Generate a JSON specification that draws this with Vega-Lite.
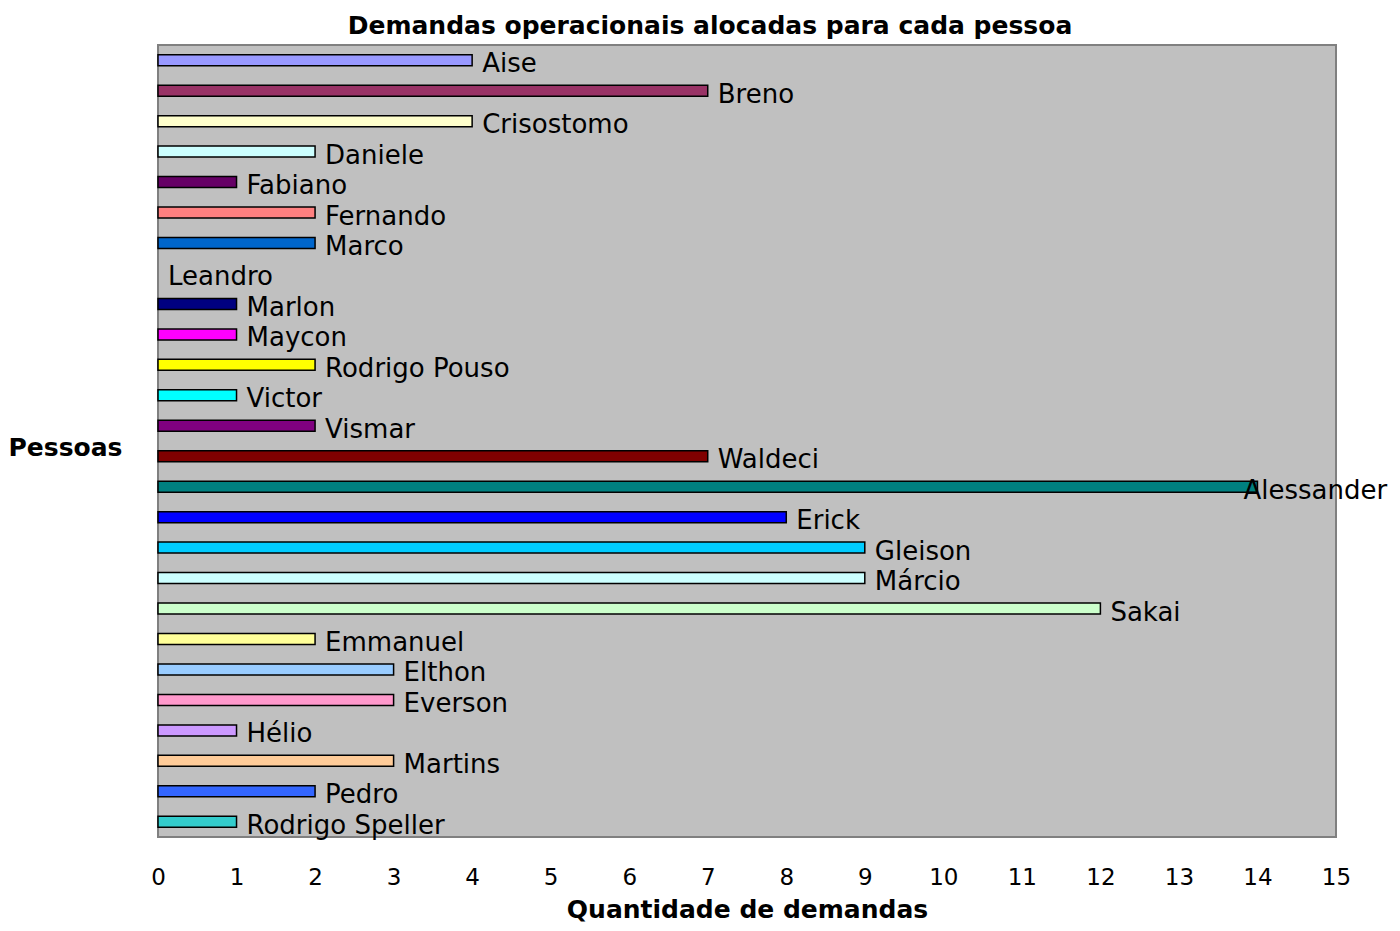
{
  "$schema": "https://vega.github.io/schema/vega-lite/v6.json",
  "width": 1178,
  "height": 792,
  "autosize": {"type": "none"},
  "padding": {"left": 158, "top": 45, "right": 64, "bottom": 94},
  "background": "white",
  "title": {
    "text": "Demandas operacionais alocadas para cada pessoa",
    "font": "DejaVu Sans",
    "fontSize": 25,
    "fontWeight": "bold",
    "color": "black",
    "anchor": "middle",
    "dx": -37,
    "offset": 6
  },
  "data": {
    "values": [
      {"nome": "Aise", "qtd": 4, "cor": "#9999ff"},
      {"nome": "Breno", "qtd": 7, "cor": "#993366"},
      {"nome": "Crisostomo", "qtd": 4, "cor": "#ffffcc"},
      {"nome": "Daniele", "qtd": 2, "cor": "#ccffff"},
      {"nome": "Fabiano", "qtd": 1, "cor": "#660066"},
      {"nome": "Fernando", "qtd": 2, "cor": "#ff8080"},
      {"nome": "Marco", "qtd": 2, "cor": "#0066cc"},
      {"nome": "Leandro", "qtd": 0, "cor": "#c0c0c0"},
      {"nome": "Marlon", "qtd": 1, "cor": "#000080"},
      {"nome": "Maycon", "qtd": 1, "cor": "#ff00ff"},
      {"nome": "Rodrigo Pouso", "qtd": 2, "cor": "#ffff00"},
      {"nome": "Victor", "qtd": 1, "cor": "#00ffff"},
      {"nome": "Vismar", "qtd": 2, "cor": "#800080"},
      {"nome": "Waldeci", "qtd": 7, "cor": "#800000"},
      {"nome": "Alessander", "qtd": 14, "cor": "#008080"},
      {"nome": "Erick", "qtd": 8, "cor": "#0000ff"},
      {"nome": "Gleison", "qtd": 9, "cor": "#00ccff"},
      {"nome": "Márcio", "qtd": 9, "cor": "#ccffff"},
      {"nome": "Sakai", "qtd": 12, "cor": "#ccffcc"},
      {"nome": "Emmanuel", "qtd": 2, "cor": "#ffff99"},
      {"nome": "Elthon", "qtd": 3, "cor": "#99ccff"},
      {"nome": "Everson", "qtd": 3, "cor": "#ff99cc"},
      {"nome": "Hélio", "qtd": 1, "cor": "#cc99ff"},
      {"nome": "Martins", "qtd": 3, "cor": "#ffcc99"},
      {"nome": "Pedro", "qtd": 2, "cor": "#3366ff"},
      {"nome": "Rodrigo Speller", "qtd": 1, "cor": "#33cccc"}
    ]
  },
  "encoding": {
    "y": {
      "field": "nome",
      "type": "nominal",
      "sort": null,
      "scale": {
        "domain": ["Aise", "Breno", "Crisostomo", "Daniele", "Fabiano", "Fernando", "Marco", "Leandro", "Marlon", "Maycon", "Rodrigo Pouso", "Victor", "Vismar", "Waldeci", "Alessander", "Erick", "Gleison", "Márcio", "Sakai", "Emmanuel", "Elthon", "Everson", "Hélio", "Martins", "Pedro", "Rodrigo Speller"],
        "paddingInner": 0,
        "paddingOuter": 0
      },
      "axis": {
        "title": "Pessoas",
        "labels": false,
        "ticks": false,
        "domain": false,
        "titleAngle": 0,
        "titleAlign": "left",
        "titleBaseline": "middle",
        "titleX": -150,
        "titleY": 402,
        "titleFont": "DejaVu Sans",
        "titleFontSize": 25,
        "titleFontWeight": "bold",
        "titleColor": "black"
      }
    },
    "x": {
      "field": "qtd",
      "type": "quantitative",
      "scale": {"domain": [0, 15], "nice": false},
      "axis": {
        "title": "Quantidade de demandas",
        "values": [0,1,2,3,4,5,6,7,8,9,10,11,12,13,14,15],
        "grid": false,
        "ticks": false,
        "domain": false,
        "labelPadding": 29,
        "labelFont": "DejaVu Sans",
        "labelFontSize": 23,
        "labelColor": "black",
        "labelFlush": false,
        "labelOverlap": false,
        "titleFont": "DejaVu Sans",
        "titleFontSize": 25,
        "titleFontWeight": "bold",
        "titleColor": "black",
        "titleBaseline": "middle",
        "titleY": 72
      }
    }
  },
  "layer": [
    {
      "transform": [{"filter": "datum.qtd > 0"}],
      "mark": {"type": "bar", "size": 11, "stroke": "black", "strokeWidth": 1.5},
      "encoding": {
        "color": {"field": "cor", "type": "nominal", "scale": null, "legend": null}
      }
    },
    {
      "transform": [{"filter": "datum.qtd < 14"}],
      "mark": {"type": "text", "align": "left", "baseline": "middle", "dx": 10, "dy": 4, "font": "DejaVu Sans", "fontSize": 26, "color": "black"},
      "encoding": {
        "text": {"field": "nome"}
      }
    },
    {
      "transform": [{"filter": "datum.qtd >= 14"}],
      "mark": {"type": "text", "align": "left", "baseline": "middle", "dx": -14, "dy": 4, "font": "DejaVu Sans", "fontSize": 26, "color": "black"},
      "encoding": {
        "text": {"field": "nome"}
      }
    }
  ],
  "config": {
    "view": {"fill": "#c0c0c0", "stroke": "#808080", "strokeWidth": 2}
  }
}
